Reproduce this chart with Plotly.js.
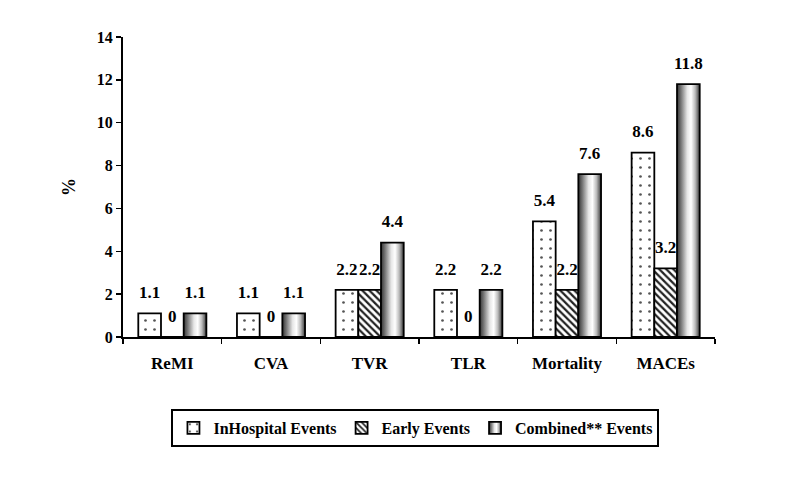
<!DOCTYPE html>
<html>
<head>
<meta charset="utf-8">
<script src="https://cdn.plot.ly/plotly-3.0.1.min.js"></script>
<style>html,body{margin:0;padding:0;background:#fff;}#chart{width:787px;height:481px;}</style>
</head>
<body>
<div id="chart"></div>
<script>
const categories = ["ReMI", "CVA", "TVR", "TLR", "Mortality", "MACEs"];
const seriesNames = ["InHospital Events", "Early Events", "Combined** Events"];
const inHospital = [1.1, 1.1, 2.2, 2.2, 5.4, 8.6];
const early = [0, 0, 2.2, 0, 2.2, 3.2];
const combined = [1.1, 1.1, 4.4, 2.2, 7.6, 11.8];
const yTicks = [0, 2, 4, 6, 8, 10, 12, 14];

const FONT = "Liberation Serif, Times New Roman, serif";
const seriesValues = [inHospital, early, combined];
const patterns = [
  {shape: ".", bgcolor: "#ffffff", fgcolor: "#555555", size: 9, solidity: 0.07},
  {shape: "\\", bgcolor: "#ffffff", fgcolor: "#222222", size: 5, solidity: 0.45},
  {shape: "", bgcolor: "#bbbbbb", fgcolor: "#bbbbbb"}
];

const traces = [];
seriesValues.forEach((vals, i) => {
  traces.push({
    type: "bar", x: categories, y: vals, name: seriesNames[i],
    marker: {color: i === 2 ? "#bbbbbb" : "#ffffff", line: {color: "#000", width: 1.8},
             pattern: i === 2 ? undefined : patterns[i]},
    hoverinfo: "skip"
  });
});
seriesValues.forEach((vals, i) => {
  traces.push({
    type: "scatter", mode: "markers+text", x: categories, y: vals,
    text: vals.map(v => String(v)), textposition: "top center",
    textfont: {family: FONT, size: 17, color: "#000", weight: "bold"},
    marker: {size: 16, color: "rgba(0,0,0,0)"},
    showlegend: false, hoverinfo: "skip", cliponaxis: false
  });
});

const layout = {
  width: 787, height: 481,
  margin: {l: 123, r: 72, t: 37, b: 144},
  paper_bgcolor: "#fff", plot_bgcolor: "#fff",
  barmode: "group", bargap: 0.31, bargroupgap: 0,
  scattermode: "group",
  font: {family: FONT, size: 16, color: "#000", weight: "bold"},
  xaxis: {
    type: "category", showline: true, linecolor: "#000", linewidth: 2,
    ticks: "outside", tickson: "boundaries", ticklen: 5, tickwidth: 1.5, tickcolor: "#000",
    ticklabelstandoff: 10, showgrid: false, zeroline: false,
    tickfont: {family: FONT, size: 17, weight: "bold"}
  },
  yaxis: {
    range: [0, 14], tickvals: yTicks, ticktext: yTicks.map(String),
    showline: true, linecolor: "#000", linewidth: 2,
    ticks: "outside", ticklen: 5, tickwidth: 1.5, tickcolor: "#000",
    showgrid: false, zeroline: false,
    tickfont: {family: FONT, size: 16, weight: "bold"},
    title: {text: "%", standoff: 16, font: {family: FONT, size: 18, weight: "bold"}}
  },
  showlegend: true,
  legend: {
    orientation: "h", x: 0.494, xanchor: "center", y: -0.24, yanchor: "top",
    bordercolor: "#000", borderwidth: 2, bgcolor: "#fff",
    font: {family: FONT, size: 16, weight: "bold"}, itemclick: false
  }
};

Plotly.newPlot("chart", traces, layout, {displayModeBar: false, staticPlot: true}).then(gd => {
  const svg = gd.querySelector(".main-svg");
  const ns = "http://www.w3.org/2000/svg";
  const defs = document.createElementNS(ns, "defs");
  const grad = document.createElementNS(ns, "linearGradient");
  grad.setAttribute("id", "cylGrad");
  grad.setAttribute("x1", "0"); grad.setAttribute("x2", "1");
  grad.setAttribute("y1", "0"); grad.setAttribute("y2", "0");
  [["0%", "#333"], ["18%", "#777"], ["45%", "#e6e6e6"], ["62%", "#ffffff"], ["80%", "#bbbbbb"], ["100%", "#3a3a3a"]].forEach(([o, c]) => {
    const s = document.createElementNS(ns, "stop");
    s.setAttribute("offset", o); s.setAttribute("stop-color", c);
    grad.appendChild(s);
  });
  defs.appendChild(grad);
  svg.insertBefore(defs, svg.firstChild);
  const barTraces = gd.querySelectorAll(".barlayer .trace.bars");
  if (barTraces[2]) barTraces[2].querySelectorAll("path").forEach(p => { p.style.fill = "url(#cylGrad)"; });
  const legTraces = gd.querySelectorAll(".legend .traces");
  if (legTraces[2]) legTraces[2].querySelectorAll(".legendpoints path").forEach(p => { p.style.fill = "url(#cylGrad)"; });
});
</script>
</body>
</html>
